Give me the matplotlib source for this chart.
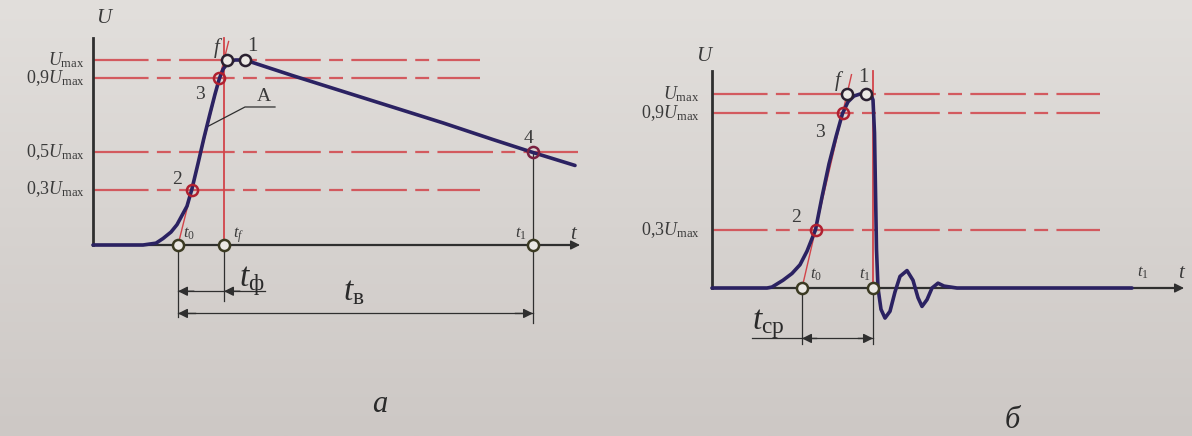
import numpy as np
import matplotlib
matplotlib.use('Agg')
import matplotlib.pyplot as plt
from matplotlib.colors import LinearSegmentedColormap

plt.rcParams['font.family'] = ['Liberation Serif', 'DejaVu Serif']
plt.rcParams['mathtext.fontset'] = 'custom'
plt.rcParams['mathtext.rm'] = 'Liberation Serif'
plt.rcParams['mathtext.it'] = 'Liberation Serif:italic'
plt.rcParams['lines.scale_dashes'] = False

# ---- a: full impulse (time in arbitrary units, U as a fraction of Umax)
levels_a = [1.0, 0.9, 0.5, 0.3]
labels_a = [r'$U_{\mathrm{max}}$', r'$0{,}9U_{\mathrm{max}}$',
            r'$0{,}5U_{\mathrm{max}}$', r'$0{,}3U_{\mathrm{max}}$']
ends_a = [38.7, 38.7, 48.5, 38.7]

t_a = [0.0, 5.0, 6.3, 7.0, 7.8, 8.4, 9.0, 9.4, 9.88, 10.5, 11.1, 11.7, 12.2,
       12.64, 13.0, 13.5, 14.2, 15.2, 20.0, 25.0, 30.0, 35.0, 40.0, 44.0, 48.2]
u_a = [0.0, 0.0, 0.01, 0.035, 0.07, 0.11, 0.17, 0.21, 0.30, 0.44, 0.58, 0.71, 0.815,
       0.90, 0.95, 0.985, 1.0, 1.0, 0.915, 0.83, 0.745, 0.66, 0.57, 0.50, 0.43]

t0_a, tf_a, t1_a = 8.5, 13.1, 44.0
peak_a = 15.2

# ---- б: chopped impulse
levels_b = [1.0, 0.9, 0.3]
labels_b = [r'$U_{\mathrm{max}}$', r'$0{,}9U_{\mathrm{max}}$', r'$0{,}3U_{\mathrm{max}}$']
ends_b = [38.8, 38.8, 38.8]

t_b = [0.0, 5.5, 6.0, 7.1, 8.0, 8.8, 9.5, 10.35, 11.0, 11.7, 12.4, 13.05, 13.6,
       14.2, 14.8, 15.4, 15.9, 16.1, 16.25, 16.35, 16.45, 16.6, 16.9, 17.3, 17.8,
       18.3, 18.8, 19.5, 20.1, 20.6, 21.0, 21.5, 22.0, 22.6, 23.2, 24.5, 42.0]
u_b = [0.0, 0.0, 0.005, 0.04, 0.075, 0.12, 0.19, 0.30, 0.47, 0.64, 0.78, 0.90, 0.96,
       0.99, 1.0, 1.0, 0.995, 0.97, 0.80, 0.50, 0.20, 0.0, -0.11, -0.155, -0.12,
       -0.02, 0.06, 0.09, 0.04, -0.05, -0.095, -0.06, 0.0, 0.025, 0.01, 0.0, 0.0]

t0_b, tc_b = 9.0, 16.1
f_b, peak_b = 13.5, 15.4

wave = '#2b2262'
red = '#d2444a'
ink = '#2f2f2f'
dash = (0, (40, 6, 10, 6))

fig = plt.figure(figsize=(11.92, 4.36), dpi=100)

# paper background
bg = fig.add_axes([0, 0, 1, 1], zorder=-5)
paper = LinearSegmentedColormap.from_list('paper', ['#e2dfdc', '#cdc8c5'])
grad = np.linspace(0, 1, 256).reshape(-1, 1)
bg.imshow(grad, cmap=paper, aspect='auto', extent=[0, 1, 0, 1])
bg.axis('off')

axa = fig.add_axes([0, 0, 600 / 1192, 1])
axa.set_xlim(-9.3, 50.7)
axa.set_ylim(-1.0324, 1.3243)
axa.axis('off')

axb = fig.add_axes([600 / 1192, 0, 592 / 1192, 1])
axb.set_xlim(-11.2, 48.0)
axb.set_ylim(-0.763, 1.485)
axb.axis('off')


def head(ax, x, y, dx):
    ax.annotate('', xy=(x, y), xytext=(x + dx, y),
                arrowprops=dict(arrowstyle='-|>', color=ink, lw=1.0,
                                mutation_scale=14, shrinkA=0, shrinkB=0))


def circle(ax, x, y, edge, face='#ebe8e4'):
    ax.plot(x, y, 'o', ms=8, mfc=face, mec=edge, mew=1.8, zorder=6)


# ================= a =================
ax = axa
for lv, lab, end in zip(levels_a, labels_a, ends_a):
    ax.plot([0, end], [lv, lv], color=red, lw=1.6, ls=dash, alpha=0.85)
    ax.text(-0.8, lv, lab, ha='right', va='center', fontsize=13, color='#3a3a3a')

# axes
ax.plot([0, 0], [0, 1.12], color=ink, lw=2)
ax.plot([0, 48.0], [0, 0], color=ink, lw=1.6)
head(ax, 48.7, 0, -1.5)
ax.text(0.3, 1.2, '$U$', fontsize=15, color='#3a3a3a')
ax.text(47.7, 0.03, '$t$', fontsize=15, color='#3a3a3a')

# front line through 0.3 and 0.9 points, tf marker
ax.plot([t0_a, t0_a + (tf_a - t0_a) * 1.1], [0, 1.1], color=red, lw=1.0)
ax.plot([tf_a, tf_a], [0, 1.12], color=red, lw=1.3)

ax.plot(t_a, u_a, color=wave, lw=2.6, solid_capstyle='round', zorder=4)

# leader to A
ax.plot([11.45, 15.2, 18.2], [0.64, 0.746, 0.746], color=ink, lw=0.9)
ax.text(16.4, 0.78, 'A', fontsize=14, color='#3a3a3a')

# dimension lines
ax.plot([t0_a, t0_a], [0, -0.39], color=ink, lw=0.9)
ax.plot([tf_a, tf_a], [0, -0.30], color=ink, lw=0.9)
ax.plot([t1_a, t1_a], [0.5, -0.42], color=ink, lw=0.9)
ax.plot([t0_a, 17.2], [-0.25, -0.25], color=ink, lw=0.9)
head(ax, t0_a, -0.25, 1.6)
head(ax, tf_a, -0.25, 1.6)
ax.plot([t0_a, t1_a], [-0.37, -0.37], color=ink, lw=0.9)
head(ax, t0_a, -0.37, 1.8)
head(ax, t1_a, -0.37, -1.8)
ax.text(14.6, -0.22, r'$t_{\mathrm{ф}}$', fontsize=24, color='#2a2a2a')
ax.text(25.0, -0.30, r'$t_{\mathrm{в}}$', fontsize=24, color='#2a2a2a')

# points
circle(ax, t0_a, 0, '#3b3a22')
circle(ax, tf_a, 0, '#3b3a22')
circle(ax, t1_a, 0, '#3b3a22')
circle(ax, tf_a + 0.3, 1.0, '#2a2030')
circle(ax, peak_a, 1.0, '#2a2030')
circle(ax, t0_a + (tf_a - t0_a) * 0.3, 0.3, '#b02030', 'none')
circle(ax, t0_a + (tf_a - t0_a) * 0.9, 0.9, '#b02030', 'none')
circle(ax, t1_a, 0.5, '#7a2040', 'none')

ax.text(t0_a + 0.5, 0.04, '$t_0$', fontsize=12, color='#3a3a3a')
ax.text(tf_a + 0.9, 0.04, '$t_f$', fontsize=12, color='#3a3a3a')
ax.text(t1_a - 1.8, 0.04, '$t_1$', fontsize=12, color='#3a3a3a')
ax.text(12.0, 1.04, '$f$', fontsize=15, color='#3a3a3a')
ax.text(15.4, 1.05, '1', fontsize=15, color='#3a3a3a')
ax.text(10.2, 0.79, '3', fontsize=14, color='#3a3a3a')
ax.text(7.9, 0.33, '2', fontsize=14, color='#3a3a3a')
ax.text(43.1, 0.55, '4', fontsize=14, color='#3a3a3a')
ax.text(28.7, -0.9, '$a$', fontsize=22, color='#2a2a2a', ha='center')

# ================= б =================
ax = axb
for lv, lab, end in zip(levels_b, labels_b, ends_b):
    ax.plot([0, end], [lv, lv], color=red, lw=1.6, ls=dash, alpha=0.85)
    ax.text(-1.2, lv, lab, ha='right', va='center', fontsize=13, color='#3a3a3a')

ax.plot([0, 0], [0, 1.12], color=ink, lw=2)
ax.plot([0, 46.5], [0, 0], color=ink, lw=1.6)
head(ax, 47.2, 0, -1.5)
ax.text(-1.6, 1.17, '$U$', fontsize=15, color='#3a3a3a')
ax.text(46.6, 0.05, '$t$', fontsize=15, color='#3a3a3a')
ax.text(42.5, 0.06, '$t_1$', fontsize=12, color='#3a3a3a')

ax.plot([t0_b, t0_b + (f_b - t0_b) * 1.1], [0, 1.1], color=red, lw=1.0)
ax.plot([tc_b, tc_b], [0, 1.12], color=red, lw=1.3)

ax.plot(t_b, u_b, color=wave, lw=2.6, solid_capstyle='round', zorder=4)

ax.plot([t0_b, t0_b], [0, -0.29], color=ink, lw=0.9)
ax.plot([tc_b, tc_b], [0, -0.29], color=ink, lw=0.9)
ax.plot([4.0, tc_b], [-0.26, -0.26], color=ink, lw=0.9)
head(ax, t0_b, -0.26, 1.5)
head(ax, tc_b, -0.26, -1.5)
ax.text(4.0, -0.21, r'$t_{\mathrm{ср}}$', fontsize=24, color='#2a2a2a')

circle(ax, t0_b, 0, '#3b3a22')
circle(ax, tc_b, 0, '#3b3a22')
circle(ax, f_b, 1.0, '#2a2030')
circle(ax, peak_b, 1.0, '#2a2030')
circle(ax, t0_b + (f_b - t0_b) * 0.3, 0.3, '#b02030', 'none')
circle(ax, t0_b + (f_b - t0_b) * 0.9, 0.9, '#b02030', 'none')

ax.text(t0_b + 0.8, 0.05, '$t_0$', fontsize=12, color='#3a3a3a')
ax.text(tc_b - 1.4, 0.05, '$t_1$', fontsize=12, color='#3a3a3a')
ax.text(12.2, 1.04, '$f$', fontsize=15, color='#3a3a3a')
ax.text(14.6, 1.06, '1', fontsize=15, color='#3a3a3a')
ax.text(10.3, 0.78, '3', fontsize=14, color='#3a3a3a')
ax.text(7.9, 0.34, '2', fontsize=14, color='#3a3a3a')
ax.text(30.0, -0.72, 'б', fontsize=22, color='#2a2a2a', ha='center', style='italic')

fig.savefig('out.png', dpi=100)
